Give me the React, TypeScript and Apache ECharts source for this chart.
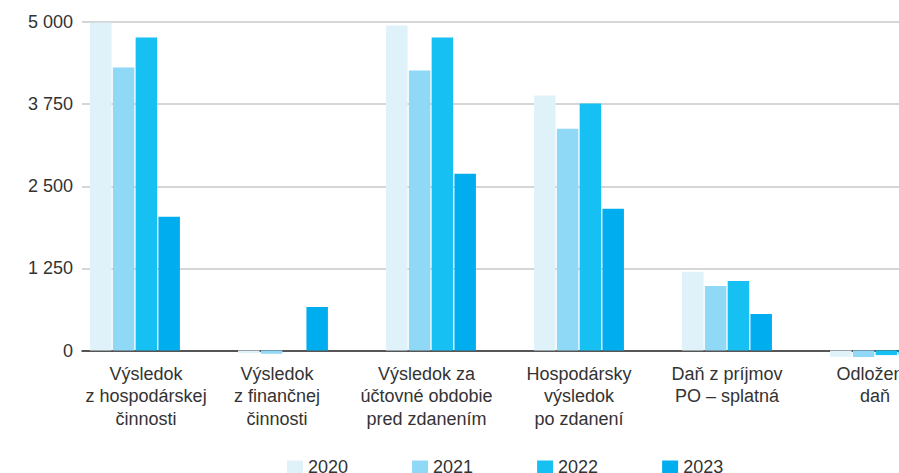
import React, { useEffect, useRef } from "react";
import * as echarts from "echarts";

const categories = [
  "Výsledok\nz hospodárskej\nčinnosti",
  "Výsledok\nz finančnej\nčinnosti",
  "Výsledok za\núčtovné obdobie\npred zdanením",
  "Hospodársky\nvýsledok\npo zdanení",
  "Daň z príjmov\nPO – splatná",
  "Odložená\ndaň",
];
const years = ["2020", "2021", "2022", "2023"];
const values2020 = [4990, -40, 4947, 3880, 1197, -95];
const values2021 = [4306, -50, 4261, 3377, 983, -100];
const values2022 = [4764, 0, 4764, 3758, 1059, -70];
const values2023 = [2035, 663, 2691, 2157, 556, -60];
const yTicks = [0, 1250, 2500, 3750, 5000];
const colors = ["#dff2fa", "#8fd8f6", "#17c0f2", "#00aeef"];

// small horizontal nudges of the category labels (layout only)
const labelNudge = [0.075, -0.04, -0.03, 0, 0, 0];

const FONT = "'Liberation Sans', Arial, sans-serif";

export default function App() {
  const ref = useRef<HTMLDivElement>(null);
  useEffect(() => {
    if (!ref.current) return;
    const chart = echarts.init(ref.current, undefined, { renderer: "svg" });
    const seriesValues = [values2020, values2021, values2022, values2023];
    const labelPos = categories.map((_, i) => i + labelNudge[i]);
    chart.setOption({
      animation: false,
      textStyle: { fontFamily: FONT },
      grid: {
        left: 82,
        right: 0,
        top: 22,
        bottom: 122.5,
        containLabel: false,
        outerBoundsMode: "none",
      },
      legend: {
        left: 287,
        top: 458,
        padding: 0,
        icon: "rect",
        itemWidth: 16,
        itemHeight: 13,
        itemGap: 64,
        data: years,
        textStyle: { fontSize: 18, color: "#333", fontFamily: FONT },
      },
      xAxis: {
        type: "value",
        min: -0.358,
        max: 5.162,
        splitLine: { show: false },
        axisTick: { show: false },
        axisLine: { show: true, onZero: true, lineStyle: { color: "#2b2b2b", width: 1.5 } },
        axisLabel: {
          customValues: labelPos,
          formatter: (v: number) => categories[Math.round(v)] ?? "",
          fontSize: 18,
          lineHeight: 22.5,
          color: "#333",
          margin: 12,
          fontFamily: FONT,
          align: "center",
        },
      },
      yAxis: {
        type: "value",
        min: 0,
        max: 5000,
        interval: 1250,
        axisLine: { show: false },
        axisTick: { show: false },
        splitLine: { lineStyle: { color: "#c9c9c9", width: 1.5 } },
        axisLabel: {
          customValues: yTicks,
          fontSize: 18,
          color: "#333",
          margin: 9,
          fontFamily: FONT,
          formatter: (v: number) =>
            String(v).replace(/\B(?=(\d{3})+(?!\d))/g, " "),
        },
      },
      series: years.map((y, s) => ({
        name: y,
        type: "bar",
        clip: false,
        barWidth: 21.5,
        barGap: "6%",
        itemStyle: { color: colors[s] },
        z: 1,
        data: seriesValues[s].map((v, i) => [i, v]),
      })),
    });
    return () => chart.dispose();
  }, []);
  return (
    <div
      ref={ref}
      style={{ position: "absolute", left: 0, top: 0, width: 899, height: 473, overflow: "hidden" }}
    />
  );
}
